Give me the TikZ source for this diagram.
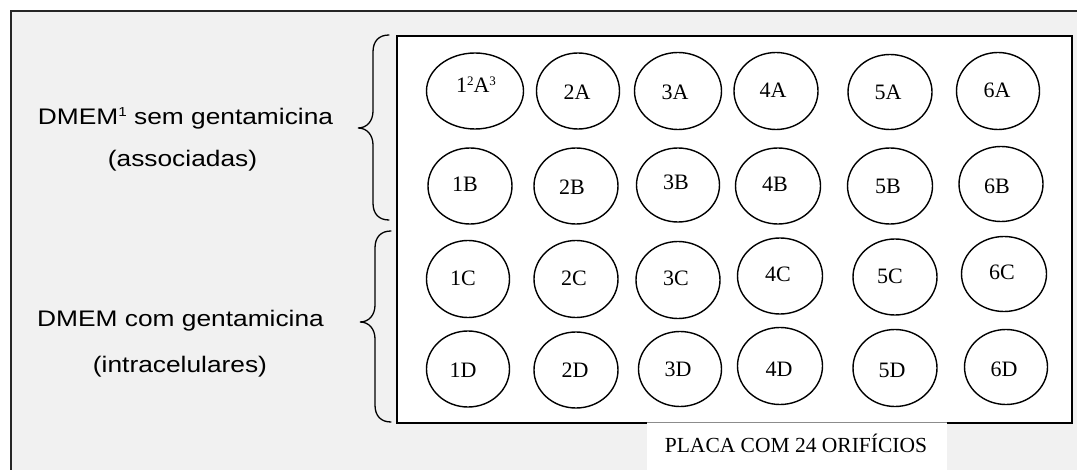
\documentclass[tikz,border=0pt]{standalone}
\usepackage{fontspec}
\setmainfont{Liberation Serif}
\newfontfamily\arialfont{Liberation Sans}
\usetikzlibrary{shapes.geometric}
\definecolor{panelgray}{HTML}{F1F1F1}

\begin{document}
\begin{tikzpicture}[x=1pt,y=-1pt,
  frameline/.style={draw=black!85, line width=1.8pt},
  well/.style={draw=black, line width=1.4pt, ellipse, inner sep=0pt},
  welltext/.style={anchor=base, inner sep=0pt, font=\fontsize{22}{26}\selectfont},
  sidetext/.style={anchor=base, inner sep=0pt, font=\arialfont\fontsize{22.5}{26}\selectfont},
  bracepath/.style={draw=black, line width=1.3pt, line cap=round},
]
\useasboundingbox (0,0) rectangle (1077,470);

% page and the grey panel, which runs past the right and bottom edges
\begin{scope}
  \clip (0,0) rectangle (1077,470);
  \fill[white] (0,0) rectangle (1077,470);
  \draw[frameline, fill=panelgray] (11,11) rectangle (1100,500);
\end{scope}

% the 24-well plate
\node[draw=black, line width=1.6pt, fill=white, inner sep=0pt,
      minimum width=675pt, minimum height=387pt, anchor=north west] (plate) at (396,35) {};

% wells: name / centre x / centre y / width / height / label x / label baseline / label
\foreach \n/\cx/\cy/\w/\h/\tx/\ty/\t in {
  1A/475/91/97/76/476/93/{1\raisebox{7pt}{\fontsize{13}{13}\selectfont 2}A\raisebox{7pt}{\fontsize{13}{13}\selectfont 3}},
  2A/578/91/83/76/577/100/2A,
  3A/678/91/87/77/675/100/3A,
  4A/776/91/84/77/773/98/4A,
  5A/890/92/84/75/888/100/5A,
  6A/998/91/83/77/997/98/6A,
  1B/470/186/84/76/465/192/1B,
  2B/576/186/84/76/572/195/2B,
  3B/678/185/83/74/676/190/3B,
  4B/778/186/85/76/775/192/4B,
  5B/890/186/85/76/888/194/5B,
  6B/1001/184/84/75/997/194/6B,
  1C/468/279/83/77/463/286/1C,
  2C/576/279/84/77/574/286/2C,
  3C/678/280/84/77/676/286/3C,
  4C/780/276/85/76/778/282/4C,
  5C/895/277/84/76/890/284/5C,
  6C/1004/274/85/75/1002/280/6C,
  1D/468/369/83/76/463/378/1D,
  2D/576/370/84/76/575/378/2D,
  3D/680/369/83/75/678/377/3D,
  4D/780/366/85/77/779/377/4D,
  5D/895/368/84/77/892/378/5D,
  6D/1006/367/83/75/1004/377/6D}
{
  \node[well, minimum width=\w pt, minimum height=\h pt] (w\n) at (\cx,\cy) {};
  \node[welltext] (t\n) at (\tx,\ty) {\t};
}

% caption tab under the plate
\node[fill=white, inner sep=0pt, minimum width=300pt, minimum height=60pt,
      anchor=north west] (tag) at (647,422) {};
\draw[black!45, line width=0.6pt] (tag.north west) -- (tag.north east);
\node[anchor=base, inner sep=0pt, font=\fontsize{21.5}{25}\selectfont] (tagtext) at (796,453)
  {PLACA COM 24 ORIF\'ICIOS};

% curly braces grouping rows A-B and C-D
\draw[bracepath] (389,35) .. controls (379,35) and (373,41) .. (373,52)
  -- (373,111) .. controls (373,121) and (367,128) .. (358,128)
  .. controls (367,128) and (373,135) .. (373,145)
  -- (373,203) .. controls (373,214) and (379,220) .. (389,220);
\draw[bracepath] (391,231) .. controls (381,231) and (375,237) .. (375,248)
  -- (375,305) .. controls (375,315) and (369,322) .. (360,322)
  .. controls (369,322) and (375,329) .. (375,339)
  -- (375,405) .. controls (375,416) and (381,422) .. (391,422);

% side labels
\node[sidetext] (top1) at (185.5,125)
  {\scalebox{1.17}[1]{DMEM\raisebox{8pt}{\fontsize{13}{13}\selectfont 1} sem gentamicina}};
\node[sidetext] (top2) at (182.5,167) {\scalebox{1.17}[1]{(associadas)}};
\node[sidetext] (bot1) at (180.5,327) {\scalebox{1.17}[1]{DMEM com gentamicina}};
\node[sidetext] (bot2) at (180,373) {\scalebox{1.17}[1]{(intracelulares)}};
\end{tikzpicture}
\end{document}
